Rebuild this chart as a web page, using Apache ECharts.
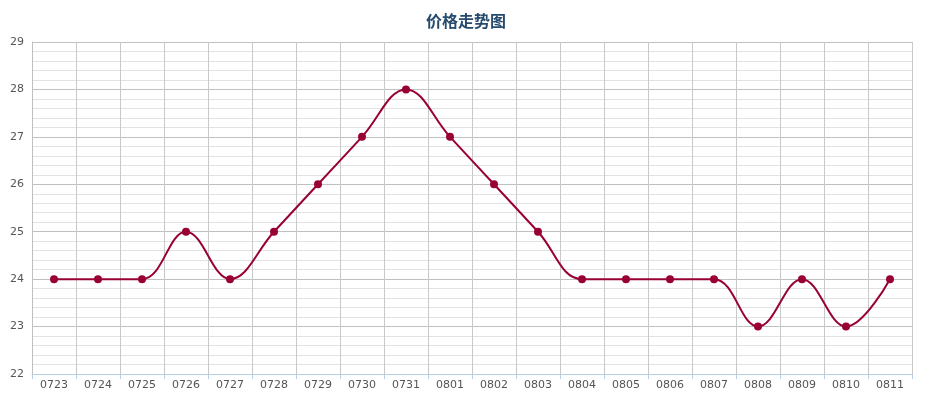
<!DOCTYPE html>
<html><head><meta charset="utf-8">
<script src="https://cdn.jsdelivr.net/npm/echarts@6/dist/echarts.min.js"></script>
<style>html,body{margin:0;padding:0;background:#fff}#c{width:932px;height:397px}</style>
</head><body><div id="c"></div>
<script>
var categories = ['0723','0724','0725','0726','0727','0728','0729','0730','0731','0801','0802','0803','0804','0805','0806','0807','0808','0809','0810','0811'];
var prices = [24,24,24,25,24,25,26,27,28,27,26,25,24,24,24,24,23,24,23,24];
var chart = echarts.init(document.getElementById('c'));
chart.setOption({
  animation:false,
  title:{text:'价格走势图',left:'center',top:8,textStyle:{fontSize:16,fontWeight:'bold',color:'#274b6d',fontFamily:'"Noto Sans CJK SC", sans-serif'}},
  grid:{left:32,right:20,top:42,bottom:23},
  xAxis:{type:'category',data:categories,boundaryGap:true,
    axisLine:{show:true,lineStyle:{color:'#b8cce4',width:1}},
    axisTick:{show:true,length:5,lineStyle:{color:'#b8cce4'}},
    axisLabel:{color:'#555',fontSize:11,margin:6,fontFamily:'"DejaVu Sans", sans-serif'},
    splitLine:{show:true,lineStyle:{color:'#c8c8c8'}}},
  yAxis:{type:'value',min:22,max:29,interval:1,
    axisLine:{show:true,lineStyle:{color:'#c0c0c0'}},
    axisTick:{show:false},
    axisLabel:{color:'#555',fontSize:11,margin:8,fontFamily:'"DejaVu Sans", sans-serif'},
    splitLine:{show:true,lineStyle:{color:'#c0c0c0'}},
    minorTick:{show:false,splitNumber:5},
    minorSplitLine:{show:true,lineStyle:{color:'#e2e2e2'}}},
  series:[{type:'line',data:prices,smooth:0.4,symbol:'circle',symbolSize:8,
    lineStyle:{color:'#990033',width:2},itemStyle:{color:'#990033'}}]
});
</script></body></html>
